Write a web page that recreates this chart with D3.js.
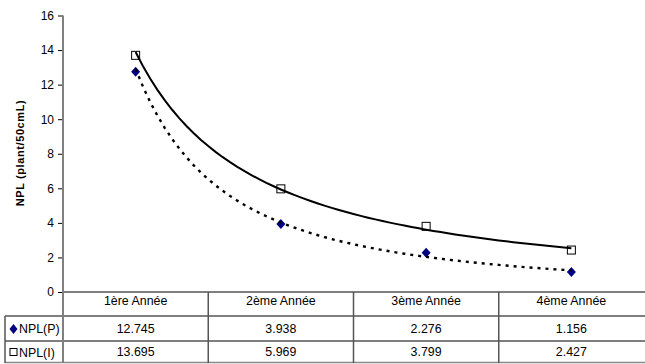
<!DOCTYPE html>
<html>
<head>
<meta charset="utf-8">
<script src="https://cdn.jsdelivr.net/npm/d3@7/dist/d3.min.js"></script>
<style>
  html, body { margin: 0; padding: 0; background: #fff; }
  svg { display: block; font-family: "Liberation Sans", Arial, sans-serif; }
</style>
</head>
<body>
<svg id="chart" width="645" height="364"></svg>
<script>
// Years of observation
const categories = ["1ère Année", "2ème Année", "3ème Année", "4ème Année"];
// NPL (plant/50cmL) per year
const nplP = [12.745, 3.938, 2.276, 1.156];
const nplI = [13.695, 5.969, 3.799, 2.427];
const seriesNames = ["NPL(P)", "NPL(I)"];
const yTicks = [0, 2, 4, 6, 8, 10, 12, 14, 16];

const svg = d3.select("#chart");

const plotLeft = 63, plotRight = 644, plotTop = 15.5, plotBottom = 292;
const tableTop = plotBottom, rowH = [24, 25, 22]; // header, row P, row I

const x = d3.scaleBand().domain(categories).range([plotLeft, plotRight]).padding(0);
const y = d3.scaleLinear().domain([0, 16]).range([plotBottom, plotTop]);
const cx = c => x(c) + x.bandwidth() / 2;
// continuous position for the fitted curves (1..4)
const xt = d3.scaleLinear().domain([1, categories.length])
  .range([cx(categories[0]), cx(categories[categories.length - 1])]);

// Power-law least squares fit y = a * x^b
function powerFit(vals) {
  const pts = vals.map((v, i) => [Math.log(i + 1), Math.log(v)]);
  const mx = d3.mean(pts, p => p[0]), my = d3.mean(pts, p => p[1]);
  const sxy = d3.sum(pts, p => (p[0] - mx) * (p[1] - my));
  const sxx = d3.sum(pts, p => (p[0] - mx) ** 2);
  const b = sxy / sxx;
  const a = Math.exp(my - b * mx);
  return t => a * Math.pow(t, b);
}

// Y axis
const yAxis = d3.axisLeft(y).tickValues(yTicks).tickSize(5).tickPadding(4).tickFormat(d3.format("d"));
const ga = svg.append("g").attr("transform", `translate(${plotLeft},0)`).call(yAxis);
ga.select(".domain").remove();
ga.selectAll(".tick line").attr("stroke", "#000").attr("stroke-width", 1);
ga.selectAll(".tick text").attr("font-size", 12).attr("fill", "#000")
  .attr("font-family", "Liberation Sans, Arial, sans-serif");

// Y axis title
svg.append("text")
  .attr("transform", `translate(24,153) rotate(-90)`)
  .attr("text-anchor", "middle")
  .attr("font-size", 11).attr("font-weight", "bold")
  .attr("letter-spacing", 0.6)
  .text("NPL (plant/50cmL)");

// Data table
const tableBottom = tableTop + d3.sum(rowH);
const r1 = tableTop + rowH[0], r2 = r1 + rowH[1];
const tbl = svg.append("g");
// horizontal rules
tbl.append("line").attr("x1", plotLeft).attr("x2", plotRight + 1).attr("y1", tableTop).attr("y2", tableTop)
  .attr("stroke", "#000").attr("stroke-width", 1.2);
[r1, r2].forEach(yy => tbl.append("line").attr("x1", 5).attr("x2", plotRight + 1)
  .attr("y1", yy).attr("y2", yy).attr("stroke", "#000").attr("stroke-width", 1.2));
tbl.append("line").attr("x1", 5).attr("x2", plotRight + 1).attr("y1", tableBottom - 0.5).attr("y2", tableBottom - 0.5)
  .attr("stroke", "#888").attr("stroke-width", 1.5);
// vertical rules
categories.slice(1).forEach(c => tbl.append("line").attr("x1", x(c)).attr("x2", x(c))
  .attr("y1", tableTop).attr("y2", tableBottom).attr("stroke", "#555").attr("stroke-width", 1.5));
tbl.append("line").attr("x1", 5).attr("x2", 5).attr("y1", r1).attr("y2", tableBottom)
  .attr("stroke", "#555").attr("stroke-width", 1.5);

// header labels
tbl.selectAll("text.cat").data(categories).join("text")
  .attr("x", d => cx(d)).attr("y", tableTop + 12.5)
  .attr("text-anchor", "middle").attr("font-size", 12.4).text(d => d);
// values
const fmt = d3.format(".3f");
[[nplP, r1, rowH[1]], [nplI, r2, rowH[2]]].forEach(([vals, yy, h]) => {
  tbl.selectAll(null).data(vals).join("text")
    .attr("x", (d, i) => cx(categories[i])).attr("y", yy + h / 2 + 4)
    .attr("text-anchor", "middle").attr("font-size", 12.4).text(d => fmt(d));
});
// legend cells
tbl.append("path").attr("d", "M0,-5L4,0L0,5L-4,0Z")
  .attr("transform", `translate(13.5,${r1 + rowH[1] / 2 + 0.5})`).attr("fill", "#000080");
tbl.append("rect").attr("x", 10).attr("y", r2 + rowH[2] / 2 - 3.5).attr("width", 7).attr("height", 7)
  .attr("fill", "#fff").attr("stroke", "#000").attr("stroke-width", 1);
tbl.append("text").attr("x", 19).attr("y", r1 + rowH[1] / 2 + 4.5).attr("font-size", 12.4).text(seriesNames[0]);
tbl.append("text").attr("x", 19).attr("y", r2 + rowH[2] / 2 + 4.5).attr("font-size", 12.4).text(seriesNames[1]);

// Vertical axis line (continues through the table)
svg.append("line").attr("x1", plotLeft).attr("x2", plotLeft).attr("y1", plotTop).attr("y2", tableBottom)
  .attr("stroke", "#808080").attr("stroke-width", 2);

// Markers
const plot = svg.append("g");
plot.selectAll("path.p").data(nplP).join("path")
  .attr("d", "M0,-5L4.5,0L0,5L-4.5,0Z")
  .attr("transform", (d, i) => `translate(${cx(categories[i])},${y(d)})`)
  .attr("fill", "#000080");
plot.selectAll("rect.i").data(nplI).join("rect")
  .attr("x", (d, i) => cx(categories[i]) - 4).attr("y", d => y(d) - 4)
  .attr("width", 8).attr("height", 8)
  .attr("fill", "#fff").attr("stroke", "#000").attr("stroke-width", 1);

// Power trend lines
const ts = d3.range(1, 4.0001, 0.05);
const line = f => d3.line().x(t => xt(t)).y(t => y(f(t)))(ts);
plot.append("path").attr("d", line(powerFit(nplI)))
  .attr("fill", "none").attr("stroke", "#000").attr("stroke-width", 2);
plot.append("path").attr("d", line(powerFit(nplP)))
  .attr("fill", "none").attr("stroke", "#000").attr("stroke-width", 2.4)
  .attr("stroke-dasharray", "3,5");
</script>
</body>
</html>
